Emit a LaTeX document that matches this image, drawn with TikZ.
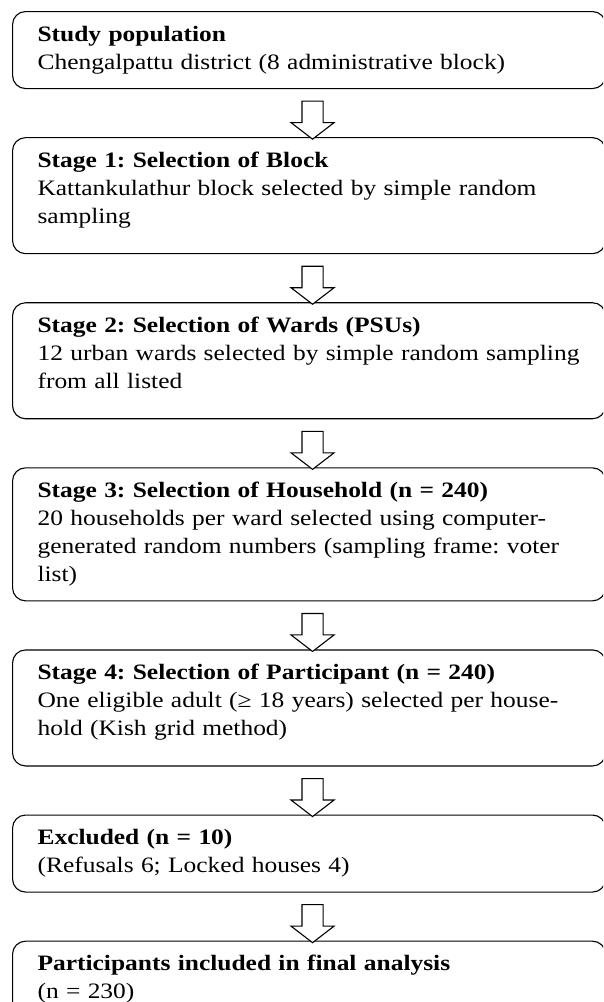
\documentclass[tikz,border=0pt]{standalone}
\usepackage{fontspec}
\setmainfont{Liberation Serif}[FakeStretch=1.157]
\usetikzlibrary{positioning, shapes.arrows}

% struts fixing the first and last line of each box
\newcommand{\firstln}{\rule{0pt}{20.5pt}}
\newcommand{\lastln}{\rule[-10.5pt]{0pt}{10.5pt}}
\newcommand{\spareln}{\rule[-21.5pt]{0pt}{21.5pt}}

\begin{document}
\frenchspacing
\begin{tikzpicture}[
    x=1pt, y=1pt,
    node distance=48pt,
    box/.style={rectangle, draw, line width=1.1pt, rounded corners=13pt, text width=543pt, inner xsep=25pt, inner ysep=9pt, align=left, font=\fontsize{22}{28}\selectfont},
    downarrow/.style={single arrow, draw, line width=1.1pt, fill=white, shape border rotate=270, minimum height=38pt, inner xsep=10pt, inner ysep=0pt, single arrow head extend=11pt, single arrow tip angle=105, xshift=3.5pt, yshift=-3pt}
]
\useasboundingbox (0,0) rectangle (603,-1002);
\clip (0,0) rectangle (603,-1002);

% Study population
\node[box, anchor=north west] (pop) at (12,-11) {\firstln\textbf{Study population}\\Chengalpattu district (8 administrative block)\lastln};

% Stage 1
\node[box, below=of pop] (blk) {\firstln\textbf{Stage 1: Selection of Block}\\Kattankulathur block selected by simple random\\sampling\spareln};

% Stage 2
\node[box, below=of blk] (wrd) {\firstln\textbf{Stage 2: Selection of Wards (PSUs)}\\\mbox{12 urban wards selected by simple random sampling}\\from all listed\spareln};

% Stage 3
\node[box, below=of wrd] (hh) {\firstln\textbf{Stage 3: Selection of Household (n = 240)}\\20 households per ward selected using computer-\\generated random numbers (sampling frame: voter\\list)\lastln};

% Stage 4
\node[box, below=of hh] (prt) {\firstln\textbf{Stage 4: Selection of Participant (n = 240)}\\One eligible adult (≥ 18 years) selected per house-\\hold (Kish grid method)\spareln};

% Excluded
\node[box, below=of prt] (exc) {\firstln\textbf{Excluded (n = 10)}\\(Refusals 6; Locked houses 4)\lastln};

% Final analysis
\node[box, below=of exc] (fin) {\firstln\textbf{Participants included in final analysis}\\(n = 230)\lastln};

% Block arrows
\path (pop) -- node[downarrow] (a1) {} (blk);
\path (blk) -- node[downarrow] (a2) {} (wrd);
\path (wrd) -- node[downarrow] (a3) {} (hh);
\path (hh) -- node[downarrow] (a4) {} (prt);
\path (prt) -- node[downarrow] (a5) {} (exc);
\path (exc) -- node[downarrow] (a6) {} (fin);

\end{tikzpicture}
\end{document}
